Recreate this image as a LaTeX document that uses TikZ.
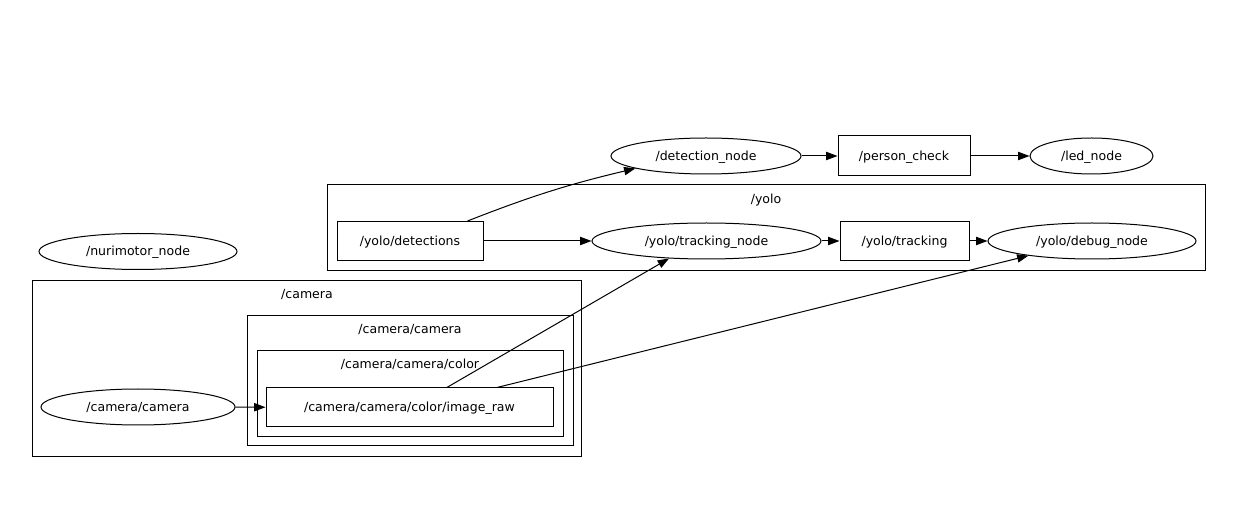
\documentclass[tikz,border=0pt]{standalone}
\usepackage{fontspec}
\setmainfont{DejaVu Sans}
\usetikzlibrary{shapes.geometric,arrows.meta}
\begin{document}
\begin{tikzpicture}[x=0.75pt,y=-0.75pt,
  font=\fontsize{9.4}{11}\selectfont, line width=0.75pt,
  every node/.style={text height=8.5pt, text depth=2pt},
  ell/.style={draw, ellipse, inner sep=0pt, minimum height=27pt},
  box/.style={draw, rectangle, inner sep=0pt},
  lbl/.style={inner sep=0pt},
  edge/.style={-{Triangle[length=8.5pt,width=6.2pt]}}]
\useasboundingbox (0,0) rectangle (1253,516);
% clusters
\draw (327,185) rectangle (1205,271);
\node[lbl] (yololbl) at (766,199) {/yolo};
\draw (32,281) rectangle (581,456);
\node[lbl] (camlbl) at (307,294) {/camera};
\draw (247,316) rectangle (573,446);
\node[lbl] (camcamlbl) at (410,329) {/camera/camera};
\draw (257,351) rectangle (563,437);
\node[lbl] (colorlbl) at (410,364) {/camera/camera/color};
% nodes
\node[ell, minimum width=142.5pt] (det) at (706,156) {/detection\_node};
\node[box, minimum width=99pt, minimum height=30pt] (pc) at (904,156) {/person\_check};
\node[ell, minimum width=92.25pt] (led) at (1091.5,156) {/led\_node};
\node[box, minimum width=109.5pt, minimum height=29.25pt] (ydet) at (410,241) {/yolo/detections};
\node[ell, minimum width=171.75pt] (ytn) at (706.5,241) {/yolo/tracking\_node};
\node[box, minimum width=96.75pt, minimum height=29.25pt] (ytr) at (904.5,241) {/yolo/tracking};
\node[ell, minimum width=156pt] (ydbg) at (1092,241) {/yolo/debug\_node};
\node[ell, minimum width=148.5pt] (nuri) at (138,251.5) {/nurimotor\_node};
\node[ell, minimum width=145.5pt] (cc) at (138,407) {/camera/camera};
\node[box, minimum width=215.25pt, minimum height=29.25pt] (raw) at (409.5,407.5) {/camera/camera/color/image\_raw};
% edges
\draw[edge] (det) -- (pc);
\draw[edge] (pc) -- (led);
\draw[edge] ([xshift=-12pt]ydet.north east) to[bend left=4] (det.190);
\draw[edge] (ydet) -- (ytn);
\draw[edge] (ytn) -- (ytr);
\draw[edge] (ytr) -- (ydbg);
\draw[edge] (cc) -- (raw);
\draw[edge] ([xshift=28pt]raw.north) -- (ytn.205);
\draw[edge] ([xshift=65.6pt]raw.north) -- (ydbg.193);
\end{tikzpicture}
\end{document}
